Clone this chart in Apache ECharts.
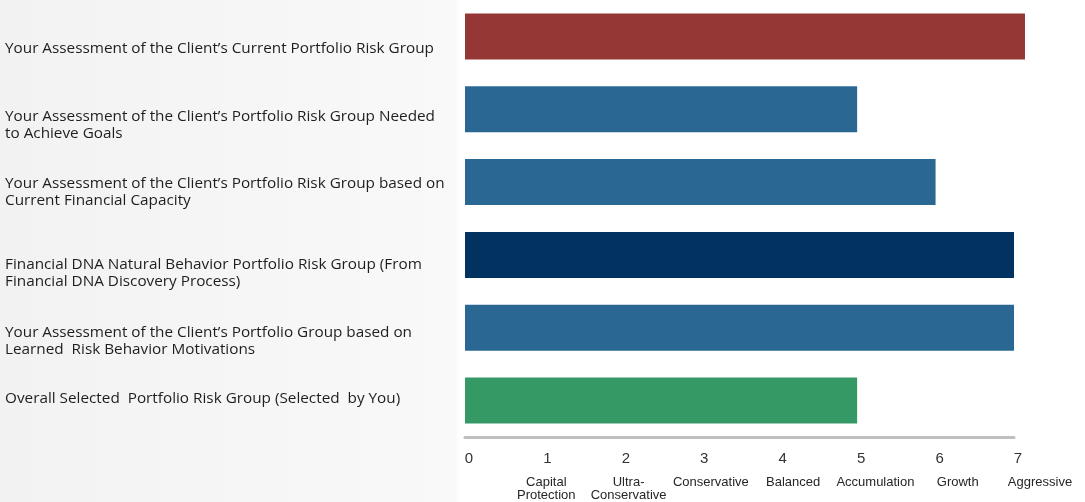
<!DOCTYPE html>
<html>
<head>
<meta charset="utf-8">
<script src="https://cdn.jsdelivr.net/npm/echarts@6/dist/echarts.min.js"></script>
<style>
html,body{margin:0;padding:0;background:#fff;}
#chart{width:1085px;height:502px;}
</style>
</head>
<body>
<div id="chart"></div>
<script>
// ---- data ----
const categories = [
  "Your Assessment of the Client\u2019s Current Portfolio Risk Group",
  "Your Assessment of the Client\u2019s Portfolio Risk Group Needed\nto Achieve Goals",
  "Your Assessment of the Client\u2019s Portfolio Risk Group based on\nCurrent Financial Capacity",
  "Financial DNA Natural Behavior Portfolio Risk Group (From\nFinancial DNA Discovery Process)",
  "Your Assessment of the Client\u2019s Portfolio Group based on\nLearned  Risk Behavior Motivations",
  "Overall Selected  Portfolio Risk Group (Selected  by You)"
];
const values = [7.14, 5, 6, 7, 7, 5];
const tickValues = [0, 1, 2, 3, 4, 5, 6, 7];
const tickNames = ["", "Capital\nProtection", "Ultra-\nConservative", "Conservative", "Balanced", "Accumulation", "Growth", "Aggressive"];

// ---- styles ----
const barColors = ["#953735", "#2a6893", "#2a6893", "#02325f", "#2a6893", "#359966"];
const labelShift = [12, 16, 10, 18, 13, -2];     // px vertical shift of y labels

const yRich = {
  t: { fontFamily: 'Open Sans', fontSize: 15.3, lineHeight: 17, color: '#1e1e1e', align: 'left' }
};
labelShift.forEach((s, i) => {
  yRich['p' + i] = { fontSize: 1, lineHeight: Math.max(1, 2 * Math.abs(s)) };
});

const chart = echarts.init(document.getElementById('chart'), null, { renderer: 'canvas' });
chart.setOption({
  animation: false,
  backgroundColor: new echarts.graphic.LinearGradient(0, 0, 1, 0, [
    { offset: 0, color: '#f2f2f2' },
    { offset: 0.42, color: '#f9f9f9' },
    { offset: 0.423, color: '#ffffff' },
    { offset: 1, color: '#ffffff' }
  ]),
  grid: [
    { left: 465, right: 71, top: 0, bottom: 65, containLabel: false },
    { left: 464, right: 45, top: 0, bottom: 65, containLabel: false }
  ],
  xAxis: [{
    gridIndex: 0,
    type: 'value', min: 0, max: 7, interval: 1,
    splitLine: { show: false },
    axisTick: { show: false },
    axisLine: { show: true, lineStyle: { color: '#bfbfbf', width: 3 } },
    axisLabel: {
      margin: 13,
      showMinLabel: true, showMaxLabel: true,
      formatter: function (v) { return '{n|' + v + '}'; },
      rich: { n: { fontFamily: "Liberation Sans, Arial", fontSize: 15, color: "#333333", lineHeight: 18, padding: [0, 0, 0, 8] } }
    }
  }, {
    gridIndex: 1,
    type: 'value', min: 0, max: 7, interval: 1,
    splitLine: { show: false },
    axisTick: { show: false },
    axisLine: { show: false },
    axisLabel: {
      margin: 42,
      showMinLabel: true, showMaxLabel: true,
      formatter: function (v) {
        const i = tickValues.indexOf(v);
        return i >= 0 ? tickNames[i] : '';
      },
      fontFamily: "Liberation Sans, Arial", fontSize: 13, color: "#262626", lineHeight: 13
    }
  }],
  yAxis: [{
    gridIndex: 0,
    type: 'category', inverse: true, data: categories,
    axisLine: { show: false },
    axisTick: { show: false },
    axisLabel: {
      align: 'left', margin: 460,
      formatter: function (v, i) {
        const s = labelShift[i];
        const body = '{t|' + v + '}';
        if (s > 0) return '{p' + i + '| }\n' + body;
        if (s < 0) return body + '\n{p' + i + '| }';
        return body;
      },
      rich: yRich
    }
  }, {
    gridIndex: 1, type: 'value', show: false
  }],
  series: [{
    type: 'bar', clip: false, xAxisIndex: 0, yAxisIndex: 0,
    barWidth: 46,
    data: values.map((v, i) => ({ value: v, itemStyle: { color: barColors[i] } }))
  }]
});
</script>
</body>
</html>
